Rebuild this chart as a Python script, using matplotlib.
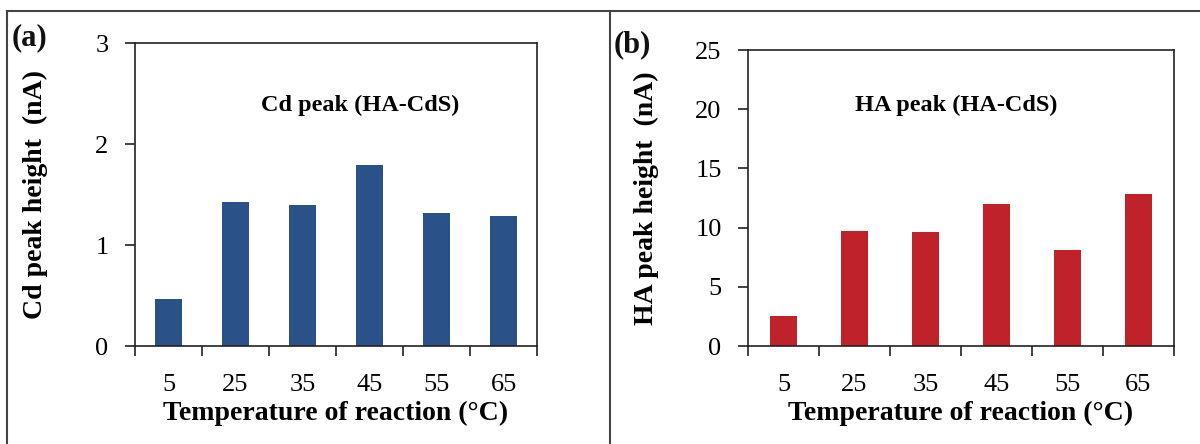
import numpy as np
import matplotlib.pyplot as plt
from matplotlib.lines import Line2D

plt.rcParams['font.family'] = ['Liberation Serif', 'DejaVu Serif']

temperaturas = ["5", "25", "35", "45", "55", "65"]
cd_altura = [0.47, 1.43, 1.40, 1.79, 1.32, 1.29]
ha_altura = [2.5, 9.7, 9.6, 12.0, 8.1, 12.8]

azul = "#2a5289"
rojo = "#c0222a"

fig = plt.figure(figsize=(12, 4.44), dpi=100)
W, H = 1200, 444

def caja(x0, y0, x1, y1):
    return [x0 / W, 1 - y1 / H, (x1 - x0) / W, (y1 - y0) / H]

ax1 = fig.add_axes(caja(135, 43, 537, 346))
ax2 = fig.add_axes(caja(748, 50, 1174, 346))

def dibujar(ax, valores, color, ymax, paso, ylabel, nota, xnota, ynota, ylpad):
    x = np.arange(len(valores))
    ax.bar(x, valores, width=0.39, color=color)
    ax.set_xlim(-0.5, len(valores) - 0.5)
    ax.set_ylim(0, ymax)
    ax.set_yticks(np.arange(0, ymax + 0.01, paso))
    ax.set_xticks(np.arange(-0.5, len(valores)), labels=[])
    ax.set_xticks(x, labels=temperaturas, minor=True)
    ax.tick_params(axis="x", which="major", direction="out", length=7, width=1.2, color="#222")
    ax.tick_params(axis="x", which="minor", length=0, pad=20, labelsize=19)
    ax.tick_params(axis="y", direction="out", length=7, width=1.2, color="#222", pad=12, labelsize=19)
    for s in ax.spines.values():
        s.set_linewidth(1.2)
        s.set_color("#222")
    ax.set_xlabel("Temperature of reaction (\u00b0C)", fontsize=20, fontweight="bold", labelpad=4)
    ax.set_ylabel(ylabel, fontsize=20, fontweight="bold", labelpad=ylpad)
    ax.text(xnota, ynota, nota, transform=ax.transAxes, fontsize=17.5, fontweight="bold", ha="center", va="center")

dibujar(ax1, cd_altura, azul, 3, 1, "Cd peak height  (nA)", "Cd peak (HA-CdS)", 0.56, 0.795, 34)
dibujar(ax2, ha_altura, rojo, 25, 5, "HA peak height  (nA)", "HA peak (HA-CdS)", 0.49, 0.814, 26)

fig.text(12 / W, 1 - 38 / H, "(a)", fontsize=22, fontweight="bold", va="center", color="#111")
fig.text(614 / W, 1 - 45 / H, "(b)", fontsize=22, fontweight="bold", va="center", color="#111")

borde = "#444"
fig.add_artist(Line2D([7 / W, 7 / W], [0, 1 - 11 / H], color=borde, lw=1.5))
fig.add_artist(Line2D([7 / W, 1], [1 - 11 / H, 1 - 11 / H], color=borde, lw=1.5))
fig.add_artist(Line2D([610 / W, 610 / W], [0, 1 - 11 / H], color=borde, lw=1.5))

fig.savefig("out.png", dpi=100)
